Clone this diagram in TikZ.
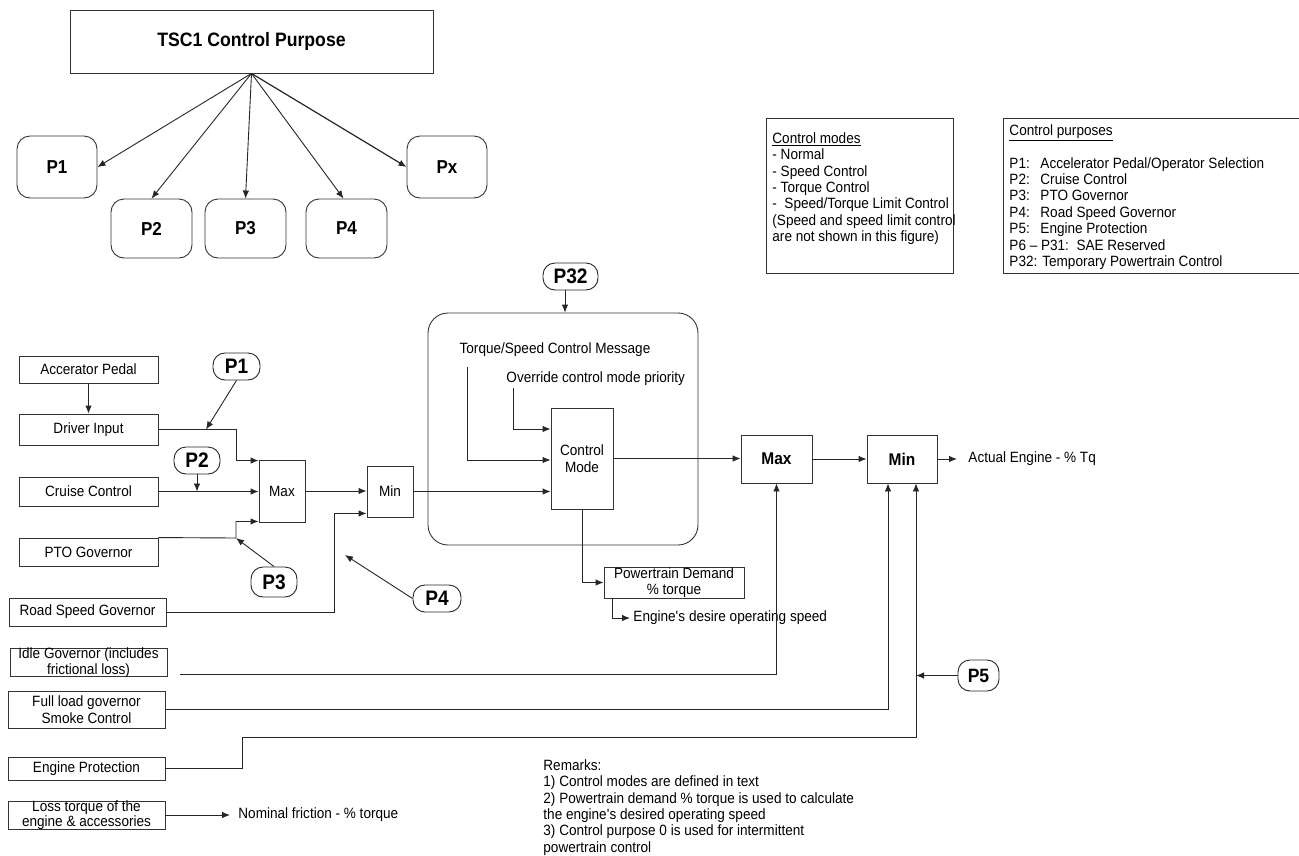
\documentclass[tikz,border=0pt]{standalone}
\usepackage{fontspec}
\setmainfont{Liberation Sans}[FakeStretch=0.91]
\usetikzlibrary{arrows.meta}
\begin{document}
\begin{tikzpicture}[x=1pt,y=-1pt,
  line width=0.9pt,
  smallfont/.style={font=\fontsize{14.9}{16.4}\selectfont},
  box/.style={draw=black!80, rectangle, inner sep=0pt, smallfont, align=center},
  pbox/.style={draw=black!80, rectangle, rounded corners=13pt, inner sep=0pt, minimum width=80pt, font=\fontsize{18.7}{20}\selectfont\bfseries},
  oval/.style={draw=black!85, rectangle, rounded corners=12pt, inner sep=0pt, minimum height=27pt, font=\fontsize{21}{22}\selectfont\bfseries},
  bigop/.style={draw=black!80, rectangle, inner sep=0pt, minimum width=70pt, minimum height=48pt, font=\fontsize{17}{18}\selectfont\bfseries},
  txt/.style={inner sep=0pt, smallfont, align=left},
  arr/.style={-{Latex[length=8pt,width=6.5pt]}, draw=black!85},
  ln/.style={draw=black!85}
]
\useasboundingbox (0,0) rectangle (1299,855);
\fill[white] (0,0) rectangle (1299,855);

% ---------- top tree ----------
\node[draw=black!80, rectangle, inner sep=0pt, minimum width=363pt, minimum height=63pt,
      font=\fontsize{19.4}{20}\selectfont\bfseries] (title) at (251.5,41.5) {TSC1 Control Purpose};
\node[pbox, minimum height=62pt] (p1) at (57,167) {P1};
\node[pbox, minimum width=81pt, minimum height=59pt] (p2) at (151.5,228.5) {P2};
\node[pbox, minimum width=81pt, minimum height=59pt] (p3) at (245.5,228.5) {P3};
\node[pbox, minimum width=81pt, minimum height=59pt] (p4) at (346.5,228.5) {P4};
\node[pbox, minimum height=62pt] (px) at (447,167) {Px};
\draw[arr] (title.south) -- (p1.east);
\draw[arr] (title.south) -- (p2.north);
\draw[arr] (title.south) -- (p3.north);
\draw[arr] (title.south) -- ([xshift=-3pt]p4.north);
\draw[arr, line width=1.2pt] (title.south) -- (px.west);

% ---------- legend boxes ----------
\node[draw=black!80, rectangle, inner sep=0pt, minimum width=187pt, minimum height=155pt] (cmbox) at (859.5,195.5) {};
\node[txt, anchor=north west] (cmtext) at (772,132) {\underline{Control modes}\\- Normal\\- Speed Control\\- Torque Control\\-\ \ Speed/Torque Limit Control\\(Speed and speed limit control\\are not shown in this figure)};
\draw[draw=black!80] (1310,118) -- (1003,118) -- (1003,273) -- (1310,273);
\node[txt, anchor=north west] (cptext) at (1009,124) {\underline{Control purposes}\\[16.4pt]
\makebox[31pt][l]{P1:}Accelerator Pedal/Operator Selection\\
\makebox[31pt][l]{P2:}Cruise Control\\
\makebox[31pt][l]{P3:}PTO Governor\\
\makebox[31pt][l]{P4:}Road Speed Governor\\
\makebox[31pt][l]{P5:}Engine Protection\\
P6 -- P31:\ \ SAE Reserved\\
P32: Temporary Powertrain Control};

% ---------- left inputs ----------
\node[box, minimum width=139pt, minimum height=27pt] (ap) at (88.5,369.5) {Accerator Pedal};
\node[box, minimum width=139pt, minimum height=31pt] (di) at (88.5,429.5) {Driver Input};
\node[box, minimum width=139pt, minimum height=29pt] (cc) at (88.5,491.5) {Cruise Control};
\node[box, minimum width=139pt, minimum height=28pt] (pto) at (88.5,552) {PTO Governor};
\node[box, minimum width=157pt, minimum height=28pt] (rsg) at (87.5,612) {Road Speed Governor};
\node[draw=black!80, rectangle, inner sep=0pt, minimum width=157pt, minimum height=28pt] (idle) at (88.5,662) {};
\node[txt, align=center, font=\fontsize{14.9}{15.5}\selectfont] (idlet) at (88.5,662.5) {Idle Governor (includes\\frictional loss)};
\node[box, minimum width=157pt, minimum height=37pt] (fl) at (86.5,709.5) {Full load governor\\Smoke Control};
\node[box, minimum width=157pt, minimum height=23pt] (ep) at (86.5,768.5) {Engine Protection};
\node[draw=black!80, rectangle, inner sep=0pt, minimum width=157pt, minimum height=28pt] (lt) at (86.5,815) {};
\node[txt, align=center, font=\fontsize{14.9}{15.5}\selectfont] (ltt) at (86.5,815) {Loss torque of the\\engine \& accessories};

% ---------- small max/min ----------
\node[box, minimum width=46pt, minimum height=62pt] (maxs) at (282,491) {Max};
\node[box, minimum width=46pt, minimum height=51pt] (mins) at (390,491.5) {Min};

% ---------- ovals ----------
\node[oval, minimum width=47pt] (op1) at (236.5,366.5) {P1};
\node[oval, minimum width=46pt] (op2) at (197,460.5) {P2};
\node[oval, minimum width=46pt, minimum height=30pt] (op3) at (274,582) {P3};
\node[oval, minimum width=48pt] (op4) at (437,598.5) {P4};
\node[oval, minimum width=55pt] (op32) at (570.5,276.5) {P32};
\node[oval, minimum width=41pt, minimum height=31pt, font=\fontsize{19.3}{20}\selectfont\bfseries] (op5) at (978.5,675.5) {P5};

% ---------- control block ----------
\node[draw=black!80, rectangle, rounded corners=20pt, inner sep=0pt, minimum width=270pt, minimum height=232pt] (big) at (563,429) {};
\node[txt] (tsm) at (555,350) {Torque/Speed Control Message};
\node[txt, anchor=west] (ocm) at (506,379) {Override control mode priority};
\node[box, minimum width=62pt, minimum height=101pt] (cm) at (582,458.5) {Control\\Mode};
\node[box, minimum width=140pt, minimum height=31pt, font=\fontsize{14.9}{15.5}\selectfont] (pd) at (674,582.5) {Powertrain Demand\\\% torque};
\node[txt, anchor=west] (es) at (633,618) {Engine\textquotesingle s desire operating speed};

% ---------- big max/min ----------
\node[bigop, minimum width=71pt] (maxb) at (776.5,459) {Max};
\node[bigop] (minb) at (902,459) {Min};
\node[txt, anchor=west] (ae) at (968,459) {Actual Engine - \% Tq};
\node[txt, anchor=west] (nf) at (238,815) {Nominal friction - \% torque};

% ---------- remarks ----------
\node[txt, anchor=north west] (rem) at (543,759) {Remarks:\\1) Control modes are defined in text\\2) Powertrain demand \% torque is used to calculate\\the engine\textquotesingle s desired operating speed\\3) Control purpose 0 is used for intermittent\\powertrain control};

% ---------- coordinates ----------
\coordinate (j1) at (206,429.5);
\coordinate (j3) at (236,538);
\coordinate (p4t) at (345,555);
\coordinate (t1) at (467,367);
\coordinate (t2) at (513,388);
\coordinate (il) at (180,674);

% ---------- connectors ----------
\draw[arr] (ap.south) -- (di.north);
\draw[arr] (di.east) -- (236,429.5) |- ([yshift=-1pt]maxs.north west);
\draw[arr] (op1.south) -- (j1);
\draw[arr] (cc.east) -- (cc.east -| maxs.west);
\draw[arr] (op2.south) -- (op2.south |- cc.east);
\draw[arr] (pto.north east) -- (j3) |- ([yshift=1pt]maxs.south west);
\draw[arr] (op3.north) -- (j3);
\draw[arr] (rsg.east) -- (334,612) |- ([yshift=4pt]mins.south west);
\draw[arr] (op4.west) -- (p4t);
\draw[arr] (maxs.east) -- (maxs.east -| mins.west);
\draw[arr] (mins.east) -- (mins.east -| cm.west);
\draw[arr] (op32.south -| 565,0) -- (565,0 |- big.north);
\draw[arr] (t1) |- (cm.west |- 0,460);
\draw[arr] (t2) |- (cm.west |- 0,429);
\draw[arr] (cm.east) -- (cm.east -| maxb.west);
\draw[arr] (cm.south) |- (pd.west);
\draw[arr] ([xshift=9pt]pd.south west) |- ([xshift=-3pt]es.west);
\draw[arr] (maxb.east) -- (minb.west);
\draw[arr] (minb.east) -- ([xshift=-11pt]ae.west);
\draw[arr] (il) -| (maxb.south);
\draw[arr] (fl.east) -| ([xshift=-14pt]minb.south);
\draw[arr] (ep.east) -| (242,737) -| ([xshift=14pt]minb.south);
\draw[arr] (op5.west) -- (op5.west -| 916,0);
\draw[arr] (lt.east) -- ([xshift=-8pt]nf.west);
\end{tikzpicture}
\end{document}
